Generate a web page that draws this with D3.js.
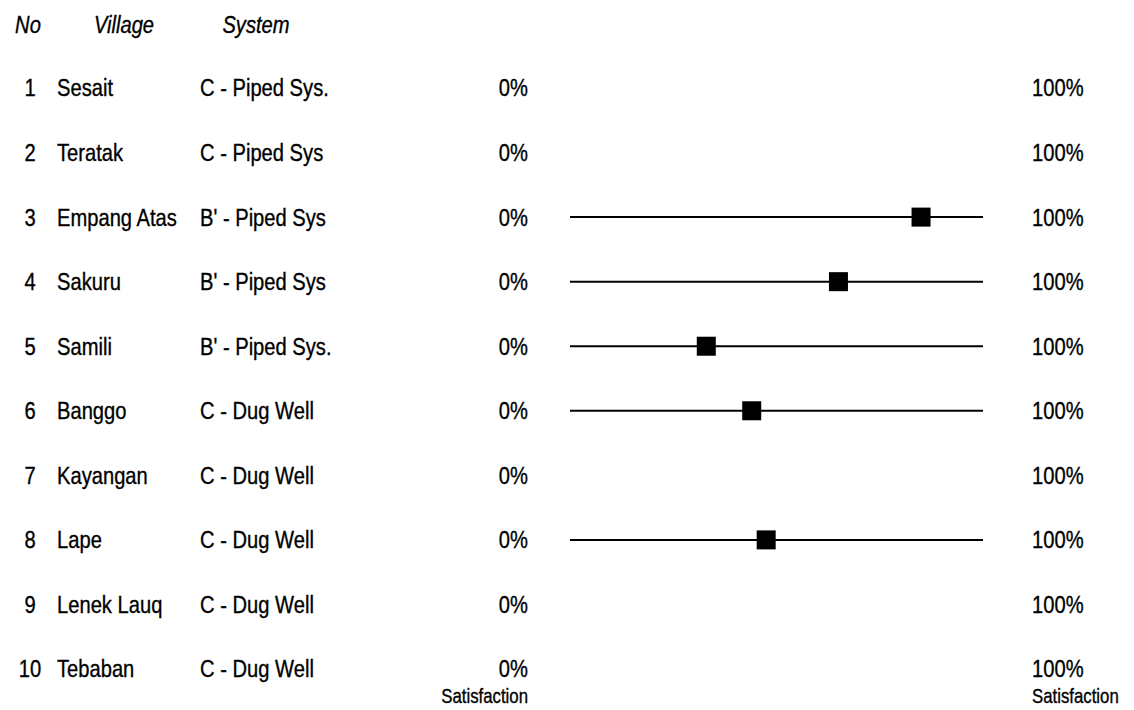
<!DOCTYPE html>
<html>
<head>
<meta charset="utf-8">
<script src="https://cdn.jsdelivr.net/npm/d3@7"></script>
<style>
  html, body { margin: 0; padding: 0; background: #fff; }
  svg { display: block; }
  text { font-family: "Liberation Sans", Arial, sans-serif; fill: #000; stroke: #000; stroke-width: 0.35; }
</style>
</head>
<body>
<svg id="chart" width="1134" height="710"></svg>
<script>
// ---- data ----
const rowNumbers = [1, 2, 3, 4, 5, 6, 7, 8, 9, 10];
const villages = ["Sesait", "Teratak", "Empang Atas", "Sakuru", "Samili", "Banggo", "Kayangan", "Lape", "Lenek Lauq", "Tebaban"];
const systems = ["C - Piped Sys.", "C - Piped Sys", "B' - Piped Sys", "B' - Piped Sys", "B' - Piped Sys.", "C - Dug Well", "C - Dug Well", "C - Dug Well", "C - Dug Well", "C - Dug Well"];
// satisfaction (0..1); null = no data shown
const satisfaction = [null, null, 0.85, 0.65, 0.33, 0.44, null, 0.475, null, null];
const headers = ["No", "Village", "System"];
const scaleMinLabel = "0%";
const scaleMaxLabel = "100%";
const axisTitle = "Satisfaction";

// ---- layout ----
const svg = d3.select("#chart");
const y = d3.scalePoint().domain(rowNumbers).range([88, 669]);
const x = d3.scaleLinear().domain([0, 1]).range([570, 983]);

const fs = 24;
const sx = 0.84; // condensed (narrow) look

function put(sel, tx, ty) {
  return sel.attr("transform", (d, i) => {
    const X = typeof tx === "function" ? tx(d, i) : tx;
    const Y = typeof ty === "function" ? ty(d, i) : ty;
    return `translate(${X},${Y}) scale(${sx},1)`;
  });
}

// headers
put(svg.append("g").selectAll("text")
  .data(headers).join("text")
  .attr("dy", "0.35em")
  .attr("text-anchor", "middle")
  .attr("font-style", "italic")
  .attr("font-size", fs)
  .text(d => d), (d, i) => [28, 124, 256][i], 25);

const rows = svg.append("g").selectAll("g")
  .data(rowNumbers.map((n, i) => ({n, village: villages[i], system: systems[i], v: satisfaction[i]})))
  .join("g")
  .attr("transform", d => `translate(0,${y(d.n)})`);

put(rows.append("text").attr("dy", "0.35em").attr("text-anchor", "middle")
  .attr("font-size", fs).text(d => d.n), 30, 0);
put(rows.append("text").attr("dy", "0.35em")
  .attr("font-size", fs).text(d => d.village), 57, 0);
put(rows.append("text").attr("dy", "0.35em")
  .attr("font-size", fs).text(d => d.system), 200, 0);
put(rows.append("text").attr("dy", "0.35em").attr("text-anchor", "end")
  .attr("font-size", fs).text(scaleMinLabel), 528, 0);
put(rows.append("text").attr("dy", "0.35em")
  .attr("font-size", fs).text(scaleMaxLabel), 1032, 0);

const withData = rows.filter(d => d.v !== null);
withData.append("line")
  .attr("x1", x(0)).attr("x2", x(1))
  .attr("y1", 0).attr("y2", 0)
  .attr("stroke", "#000").attr("stroke-width", 2);
const ms = 19;
withData.append("rect")
  .attr("x", d => x(d.v) - ms / 2)
  .attr("y", -ms / 2)
  .attr("width", ms).attr("height", ms)
  .attr("fill", "#000");

// bottom titles
put(svg.append("text").attr("dy", "0.35em")
  .attr("text-anchor", "end").attr("font-size", 20).text(axisTitle), 528, 696);
put(svg.append("text").attr("dy", "0.35em")
  .attr("font-size", 20).text(axisTitle), 1032, 696);
</script>
</body>
</html>
